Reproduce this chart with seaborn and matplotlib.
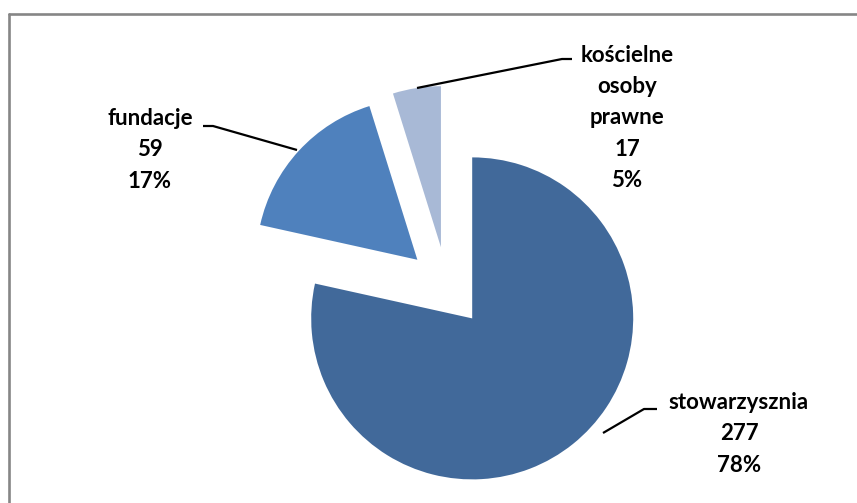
"""Exploded pie of organisation types (stowarzyszenia / fundacje / kościelne osoby prawne)."""

import matplotlib

matplotlib.use("Agg")
import matplotlib.pyplot as plt  # noqa: E402
import seaborn as sns  # noqa: E402
from matplotlib.lines import Line2D  # noqa: E402

# data
categories = ["stowarzysznia", "fundacje", "kościelne\nosoby\nprawne"]
counts = [277, 59, 17]
percents = [78, 17, 5]
colors = ["#41699A", "#4F81BD", "#A8B9D6"]

W, H = 857, 503
CX, CY, R = 447, 287, 161  # pie centre / radius in pixels


def px(x, y):
    """pixel position -> data coords (pie radius = 1)"""
    return (x - CX) / R, (CY - y) / R


sns.set_theme(style="white")
plt.rcParams["font.family"] = ["Lato", "DejaVu Sans"]

fig = plt.figure(figsize=(W / 100, H / 100), dpi=100)
ax = fig.add_axes([0, 0, 1, 1])

ax.pie(
    counts,
    colors=colors,
    startangle=90,
    counterclock=False,
    explode=[0.25] * len(counts),
    radius=1,
    wedgeprops={"linewidth": 0},
)

x0, y0 = px(0, H)
x1, y1 = px(W, 0)
ax.set_xlim(x0, x1)
ax.set_ylim(y0, y1)
ax.set_aspect("equal")
ax.axis("off")

# labels + leader lines
label_pos = [(739, 434), (150, 150), (627, 118)]
leaders = [
    [(603, 433), (644, 409), (657, 409)],
    [(297, 150), (213, 126), (203, 126)],
    [(417, 88), (562, 59), (572, 59)],
]
for name, n, p, (lx, ly), pts in zip(categories, counts, percents, label_pos, leaders):
    tx, ty = px(lx, ly)
    ax.text(tx, ty, f"{name}\n{n}\n{p}%", ha="center", va="center",
            fontsize=16, fontweight="bold", color="black", linespacing=1.6)
    xs, ys = zip(*[px(a, b) for a, b in pts])
    ax.plot(xs, ys, color="black", lw=1.6, solid_capstyle="butt")

# chart frame (only top/left edge visible in the crop)
frame_kw = dict(color="#868686", lw=1.9, transform=fig.transFigure)
fig.add_artist(Line2D([8.5 / W, 8.5 / W], [0, 1 - 13.5 / H], **frame_kw))
fig.add_artist(Line2D([8.5 / W, 1], [1 - 13.5 / H, 1 - 13.5 / H], **frame_kw))

fig.savefig("out.png", dpi=100)
plt.close(fig)
